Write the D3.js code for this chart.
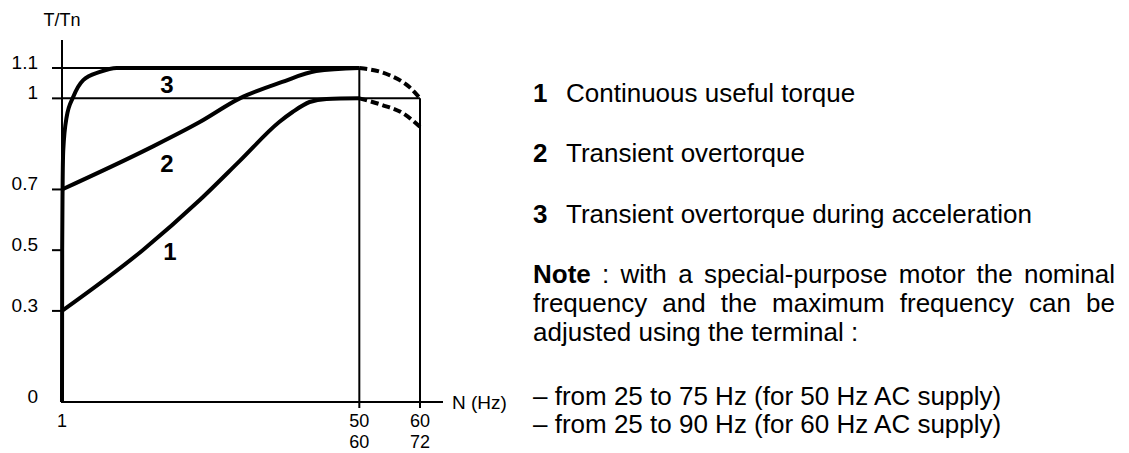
<!DOCTYPE html>
<html>
<head>
<meta charset="utf-8">
<script src="https://cdn.jsdelivr.net/npm/d3@7"></script>
<style>
  body { margin: 0; background: #fff; }
  svg { display: block; }
  text { font-family: "Liberation Sans", Arial, sans-serif; fill: #000; }
</style>
</head>
<body>
<div id="chart"></div>
<script>
// ---- data ----
const yTickValues = [0, 0.3, 0.5, 0.7, 1, 1.1]
const yTickLabels = ['0', '0.3', '0.5', '0.7', '1', '1.1']
const xTickValues = [1, 50, 60]
const xTickLabels50 = ['1', '50', '60']   // 50 Hz supply
const xTickLabels60 = ['', '60', '72']    // 60 Hz supply

// curve 1 : continuous useful torque  [Hz, T/Tn]
const curve1 = [[1, 0.3], [14.3, 0.5], [23.7, 0.665], [30.3, 0.794], [36.8, 0.922],
  [39.0, 0.955], [41.8, 0.988], [44.6, 0.998], [50, 1.0]]
// curve 2 : transient overtorque
const curve2 = [[1, 0.7], [15.5, 0.837], [23.7, 0.922], [30.3, 1.0], [37.3, 1.054],
  [42.9, 1.09], [50, 1.1]]
// curve 3 : transient overtorque during acceleration
const curve3 = [[1, 0], [1.03, 0.5], [1.1, 0.708], [1.21, 0.83], [1.77, 0.939],
  [2.86, 1.005], [4.5, 1.06], [7.25, 1.087], [10, 1.1], [50, 1.1]]
// dashed extensions above nominal frequency
const dashUpper = [[50, 1.1], [54.9, 1.077], [58.2, 1.038], [60, 1.0]]
const dashLower = [[50, 1.0], [53.8, 0.978], [57.1, 0.952], [60, 0.906]]

// curve number labels [Hz, T/Tn]
const curveLabels = [['3', 18.3, 1.018], ['2', 18.3, 0.758], ['1', 18.8, 0.468]]

const legendItems = [
  ['1', 'Continuous useful torque'],
  ['2', 'Transient overtorque'],
  ['3', 'Transient overtorque during acceleration']
]
const noteLines = [
  ['Note', ':', 'with', 'a', 'special-purpose', 'motor', 'the', 'nominal'],
  ['frequency', 'and', 'the', 'maximum', 'frequency', 'can', 'be'],
  ['adjusted using the terminal :']
]
const rangeLines = [
  '– from 25 to 75 Hz (for 50 Hz AC supply)',
  '– from 25 to 90 Hz (for 60 Hz AC supply)'
]

// ---- drawing ----
const width = 1129
const height = 453

const svg = d3.select('#chart').append('svg')
  .attr('width', width)
  .attr('height', height)

const x = d3.scaleLinear().domain([1, 60]).range([62, 420])
const y = d3.scaleLinear().domain([0, 1.1]).range([402, 68])

const x0 = x(1)
const yBase = y(0)

// axes
svg.append('line')
  .attr('x1', x0).attr('x2', x0)
  .attr('y1', 40).attr('y2', yBase)
  .attr('stroke', '#000').attr('stroke-width', 2)
svg.append('line')
  .attr('x1', x0 - 1).attr('x2', 443)
  .attr('y1', yBase).attr('y2', yBase)
  .attr('stroke', '#000').attr('stroke-width', 2)

svg.append('text')
  .attr('x', x0).attr('y', 26)
  .attr('text-anchor', 'middle')
  .style('font-size', '18px')
  .text('T/Tn')

svg.append('text')
  .attr('x', 452).attr('y', yBase + 7)
  .style('font-size', '19px')
  .text('N (Hz)')

// y ticks
yTickValues.forEach((v, i) => {
  if (v > 0) {
    svg.append('line')
      .attr('x1', x0 - 10).attr('x2', x0)
      .attr('y1', y(v)).attr('y2', y(v))
      .attr('stroke', '#000').attr('stroke-width', 2)
  }
  svg.append('text')
    .attr('x', x0 - 24).attr('y', y(v) + 1)
    .attr('text-anchor', 'end')
    .style('font-size', '19px')
    .text(yTickLabels[i])
})

// x tick labels, two rows
xTickValues.forEach((v, i) => {
  svg.append('text')
    .attr('x', x(v)).attr('y', yBase + 25)
    .attr('text-anchor', 'middle')
    .style('font-size', '18px')
    .text(xTickLabels50[i])
  svg.append('text')
    .attr('x', x(v)).attr('y', yBase + 46)
    .attr('text-anchor', 'middle')
    .style('font-size', '18px')
    .text(xTickLabels60[i])
})

// reference lines at 1.1 and 1, and verticals at 50 / 60
svg.append('line')
  .attr('x1', x0).attr('x2', x(50))
  .attr('y1', y(1.1)).attr('y2', y(1.1))
  .attr('stroke', '#000').attr('stroke-width', 2)
svg.append('line')
  .attr('x1', x0).attr('x2', x(60))
  .attr('y1', y(1)).attr('y2', y(1))
  .attr('stroke', '#000').attr('stroke-width', 2)
svg.append('line')
  .attr('x1', x(50)).attr('x2', x(50))
  .attr('y1', y(1.1)).attr('y2', yBase + 6)
  .attr('stroke', '#000').attr('stroke-width', 2)
svg.append('line')
  .attr('x1', x(60)).attr('x2', x(60))
  .attr('y1', y(1)).attr('y2', yBase + 6)
  .attr('stroke', '#000').attr('stroke-width', 2)

// curves
const line = d3.line()
  .x(d => x(d[0]))
  .y(d => y(d[1]))
  .curve(d3.curveMonotoneX)

;[curve1, curve2, curve3].forEach(c => {
  svg.append('path')
    .attr('d', line(c))
    .attr('fill', 'none')
    .attr('stroke', '#000')
    .attr('stroke-width', 4)
})

;[dashUpper, dashLower].forEach(c => {
  svg.append('path')
    .attr('d', line(c))
    .attr('fill', 'none')
    .attr('stroke', '#000')
    .attr('stroke-width', 4)
    .attr('stroke-dasharray', '8,4')
})

curveLabels.forEach(d => {
  svg.append('text')
    .attr('x', x(d[1])).attr('y', y(d[2]))
    .attr('text-anchor', 'middle')
    .style('font-size', '24px')
    .style('font-weight', 'bold')
    .text(d[0])
})

// right hand text block
const tx = 533
const tx1 = 1115
const fs = '26px'

const legendBase = [102, 162, 223]
legendItems.forEach((d, i) => {
  svg.append('text')
    .attr('x', tx).attr('y', legendBase[i])
    .style('font-size', fs)
    .style('font-weight', 'bold')
    .text(d[0])
  svg.append('text')
    .attr('x', 566).attr('y', legendBase[i])
    .style('font-size', fs)
    .text(d[1])
})

// justify words across the column
function justify(words, baseline, last) {
  const nodes = words.map((w, i) => svg.append('text')
    .attr('y', baseline)
    .style('font-size', fs)
    .style('font-weight', (baseline === 283 && i === 0) ? 'bold' : null)
    .text(w))
  const widths = nodes.map(n => n.node().getComputedTextLength())
  let gap
  if (last || words.length < 2) gap = 7
  else gap = (tx1 - tx - d3.sum(widths)) / (words.length - 1)
  let cx = tx
  nodes.forEach((n, i) => {
    n.attr('x', cx)
    cx += widths[i] + gap
  })
}

const noteBase = [283, 312, 341]
noteLines.forEach((words, i) => justify(words, noteBase[i], i === noteLines.length - 1))

const rangeBase = [405, 433]
rangeLines.forEach((t, i) => {
  svg.append('text')
    .attr('x', tx).attr('y', rangeBase[i])
    .style('font-size', fs)
    .text(t)
})
</script>
</body>
</html>
